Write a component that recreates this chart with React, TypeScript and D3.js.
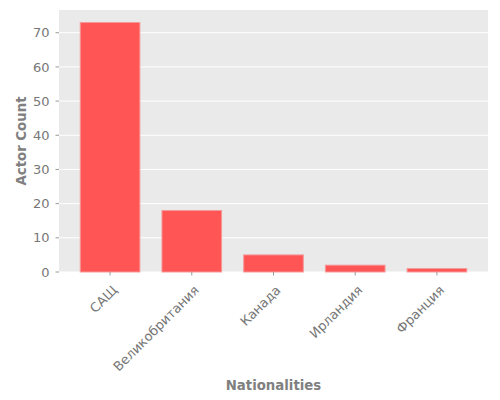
import React, { useEffect } from "react";
import * as d3 from "d3";

const countries = ["САЩ", "Великобритания", "Канада", "Ирландия", "Франция"];
const actorCounts = [73, 18, 5, 2, 1];
const yTicks = [0, 10, 20, 30, 40, 50, 60, 70];

const W = 500;
const H = 400;
const margin = { top: 10, right: 12, bottom: 128, left: 59 };

export default function App() {
  useEffect(() => {
    document.body.style.margin = "0";
  }, []);

  const x = d3
    .scaleBand<string>()
    .domain(countries)
    .range([margin.left, W - margin.right])
    .paddingInner(0.27)
    .paddingOuter(0.26);

  const y = d3
    .scaleLinear()
    .domain([0, d3.max(actorCounts)! * 1.05])
    .range([H - margin.bottom, margin.top]);

  const textColor = "#777777";
  const font = "DejaVu Sans, sans-serif";
  const plotBottom = H - margin.bottom;

  return (
    <svg width={W} height={H} style={{ display: "block", fontFamily: font }}>
      <rect x={0} y={0} width={W} height={H} fill="#ffffff" />
      {/* plot background */}
      <rect
        x={margin.left}
        y={margin.top}
        width={W - margin.left - margin.right}
        height={plotBottom - margin.top}
        fill="#EAEAEA"
      />
      {/* horizontal grid */}
      {yTicks.map((t) => (
        <line
          key={"g" + t}
          x1={margin.left}
          x2={W - margin.right}
          y1={y(t)}
          y2={y(t)}
          stroke="#ffffff"
          strokeWidth={1}
        />
      ))}
      {/* bars */}
      {countries.map((c, i) => (
        <rect
          key={"b" + c}
          x={x(c)!}
          y={y(actorCounts[i])}
          width={x.bandwidth()}
          height={plotBottom - y(actorCounts[i])}
          fill="#FF5555"
          stroke="#F59A9A"
          strokeWidth={1}
        />
      ))}
      {/* y axis ticks */}
      {yTicks.map((t) => (
        <g key={"y" + t}>
          <line
            x1={margin.left - 3.5}
            x2={margin.left}
            y1={y(t)}
            y2={y(t)}
            stroke="#999999"
            strokeWidth={1}
          />
          <text
            x={margin.left - 9.5}
            y={y(t)}
            dy="0.36em"
            textAnchor="end"
            fontSize={13}
            fill={textColor}
          >
            {t}
          </text>
        </g>
      ))}
      {/* x axis ticks */}
      {countries.map((c) => {
        const cx = x(c)! + x.bandwidth() / 2;
        return (
          <g key={"x" + c}>
            <line
              x1={cx}
              x2={cx}
              y1={plotBottom}
              y2={plotBottom + 3.5}
              stroke="#999999"
              strokeWidth={1}
            />
            <text
              transform={`translate(${cx + 8},${plotBottom + 19}) rotate(-45)`}
              textAnchor="end"
              fontSize={13}
              fill={textColor}
            >
              {c}
            </text>
          </g>
        );
      })}
      {/* axis labels */}
      <text
        transform={`translate(25.5,${(margin.top + plotBottom) / 2}) rotate(-90)`}
        textAnchor="middle"
        fontSize={13.3}
        fontWeight="bold"
        fill="#808080"
      >
        Actor Count
      </text>
      <text
        x={(margin.left + W - margin.right) / 2}
        y={389.5}
        textAnchor="middle"
        fontSize={13.3}
        fontWeight="bold"
        fill="#808080"
      >
        Nationalities
      </text>
    </svg>
  );
}
